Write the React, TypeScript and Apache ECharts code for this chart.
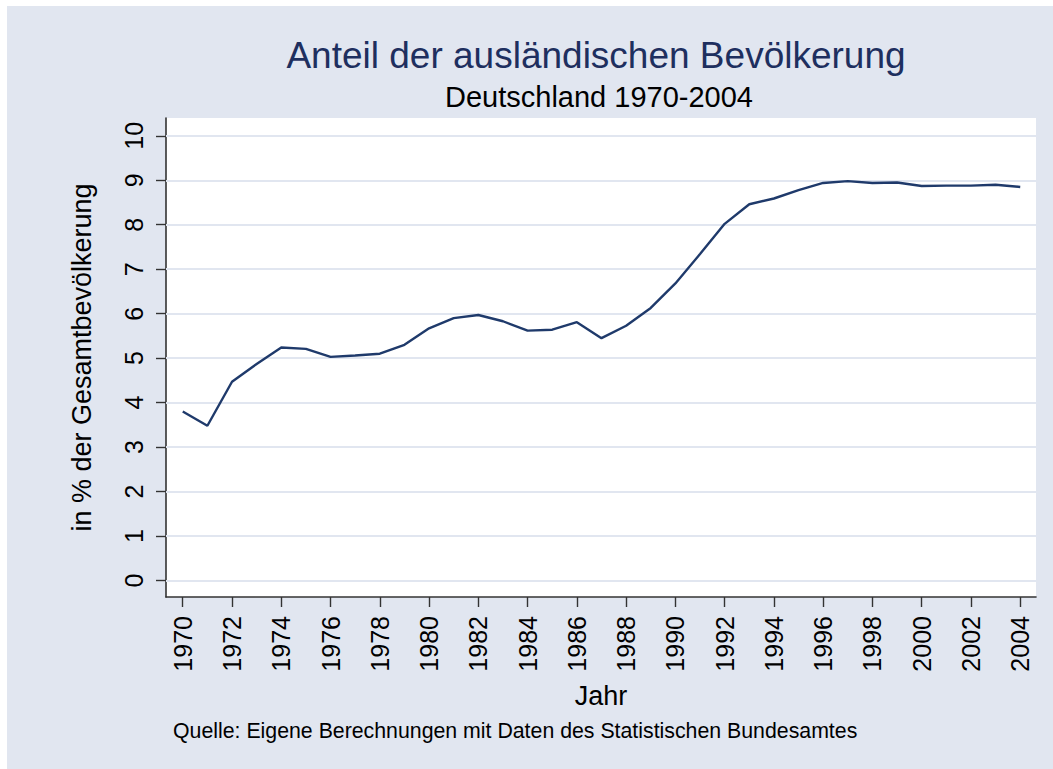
import React, { useEffect, useRef } from "react";
import * as echarts from "echarts";

const years = [
  1970, 1971, 1972, 1973, 1974, 1975, 1976, 1977, 1978, 1979, 1980, 1981,
  1982, 1983, 1984, 1985, 1986, 1987, 1988, 1989, 1990, 1991, 1992, 1993,
  1994, 1995, 1996, 1997, 1998, 1999, 2000, 2001, 2002, 2003, 2004,
];
const shares = [
  3.8, 3.48, 4.47, 4.87, 5.24, 5.21, 5.03, 5.06, 5.1, 5.3, 5.67, 5.9, 5.97,
  5.83, 5.62, 5.64, 5.81, 5.45, 5.73, 6.13, 6.68, 7.34, 8.02, 8.46, 8.59,
  8.78, 8.94, 8.98, 8.94, 8.95, 8.87, 8.88, 8.88, 8.9, 8.85,
];
const xTicks = [
  1970, 1972, 1974, 1976, 1978, 1980, 1982, 1984, 1986, 1988, 1990, 1992,
  1994, 1996, 1998, 2000, 2002, 2004,
];
const yTicks = [0, 1, 2, 3, 4, 5, 6, 7, 8, 9, 10];

const titleText = "Anteil der ausländischen Bevölkerung";
const subtitleText = "Deutschland 1970-2004";
const yTitle = "in % der Gesamtbevölkerung";
const xTitle = "Jahr";
const noteText = "Quelle: Eigene Berechnungen mit Daten des Statistischen Bundesamtes";

const FONT = "'Liberation Sans', Arial, Helvetica, sans-serif";
const AXIS = "#333333";

export default function App() {
  const ref = useRef<HTMLDivElement>(null);
  useEffect(() => {
    if (!ref.current) return;
    const chart = echarts.init(ref.current, undefined, { renderer: "svg" });
    chart.setOption({
      animation: false,
      backgroundColor: "#e1e6f0",
      textStyle: { fontFamily: FONT },
      graphic: [
        {
          type: "text",
          x: 589,
          y: 49,
          style: {
            text: titleText,
            font: `37px ${FONT}`,
            fill: "#1e2f5f",
            textAlign: "center",
            textVerticalAlign: "middle",
          },
        },
        {
          type: "text",
          x: 592,
          y: 91,
          style: {
            text: subtitleText,
            font: `29px ${FONT}`,
            fill: "#000000",
            textAlign: "center",
            textVerticalAlign: "middle",
          },
        },
        {
          type: "text",
          x: 166,
          y: 725,
          style: {
            text: noteText,
            font: `21.3px ${FONT}`,
            fill: "#000000",
            textAlign: "left",
            textVerticalAlign: "middle",
          },
        },
      ],
      grid: {
        left: 159,
        top: 112,
        width: 870,
        height: 479,
        show: true,
        backgroundColor: "#ffffff",
        borderWidth: 0,
      },
      xAxis: {
        type: "value",
        min: 1969.32,
        max: 2004.64,
        name: xTitle,
        nameLocation: "middle",
        nameGap: 85,
        nameTextStyle: { fontSize: 27, color: "#000", fontFamily: FONT },
        axisLine: { show: true, onZero: false, lineStyle: { color: AXIS, width: 1.6 } },
        axisTick: {
          show: true,
          length: 10,
          customValues: xTicks,
          lineStyle: { color: AXIS, width: 1.4 },
        },
        axisLabel: {
          customValues: xTicks,
          rotate: 90,
          margin: 19,
          fontSize: 25,
          color: "#000",
          fontFamily: FONT,
          formatter: (v: number) => String(v),
        },
        splitLine: { show: false },
      },
      yAxis: {
        type: "value",
        min: -0.37,
        max: 10.4,
        name: yTitle,
        nameLocation: "middle",
        nameGap: 71,
        nameTextStyle: { fontSize: 27, color: "#000", fontFamily: FONT },
        axisLine: { show: true, onZero: false, lineStyle: { color: AXIS, width: 1.6 } },
        axisTick: {
          show: true,
          length: 10,
          customValues: yTicks,
          lineStyle: { color: AXIS, width: 1.4 },
        },
        axisLabel: {
          customValues: yTicks,
          rotate: 90,
          margin: 20,
          fontSize: 25,
          color: "#000",
          fontFamily: FONT,
          formatter: (v: number) => String(v),
        },
        splitLine: { show: false },
      },
      series: [
        {
          type: "line",
          data: years.map((y, i) => [y, shares[i]]),
          symbol: "none",
          lineStyle: { color: "#1f3a6b", width: 2.4 },
          z: 3,
          markLine: {
            silent: true,
            symbol: ["none", "none"],
            label: { show: false },
            z: 1,
            lineStyle: { color: "#e1e6f0", width: 2, type: "solid" },
            data: yTicks.map((t) => ({ yAxis: t })),
          },
        },
      ],
    });
    return () => chart.dispose();
  }, []);
  return (
    <div
      ref={ref}
      style={{ position: "absolute", left: 7, top: 6, width: 1046, height: 763 }}
    />
  );
}
